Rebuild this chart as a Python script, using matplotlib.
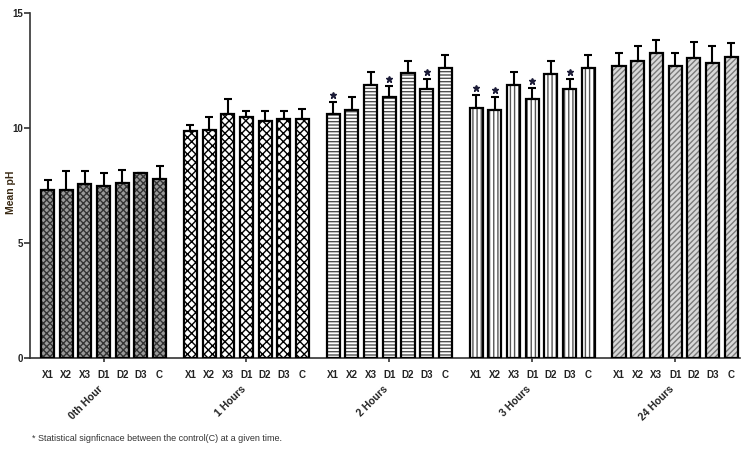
import numpy as np
import matplotlib
matplotlib.use('Agg')
import matplotlib.pyplot as plt
from matplotlib import transforms

plt.rcParams['font.family'] = ['Liberation Sans', 'DejaVu Sans']
plt.rcParams['hatch.linewidth'] = 1.0

# == data
groups = ['0th Hour', '1 Hours', '2 Hours', '3 Hours', '24 Hours']
samples = ['X1', 'X2', 'X3', 'D1', 'D2', 'D3', 'C']

mean_0h = [7.30, 7.30, 7.55, 7.48, 7.59, 8.03, 7.78]
mean_1h = [9.87, 9.90, 10.62, 10.48, 10.30, 10.39, 10.39]
mean_2h = [10.62, 10.79, 11.86, 11.33, 12.39, 11.71, 12.62]
mean_3h = [10.88, 10.78, 11.86, 11.28, 12.35, 11.71, 12.62]
mean_24h = [12.68, 12.93, 13.25, 12.68, 13.06, 12.83, 13.07]

sd_0h = [0.44, 0.83, 0.57, 0.56, 0.58, 0.02, 0.58]
sd_1h = [0.25, 0.58, 0.63, 0.27, 0.42, 0.36, 0.44]
sd_2h = [0.50, 0.55, 0.59, 0.50, 0.54, 0.43, 0.57]
sd_3h = [0.54, 0.55, 0.59, 0.46, 0.55, 0.43, 0.57]
sd_24h = [0.60, 0.62, 0.56, 0.60, 0.67, 0.75, 0.63]

# * = significant vs control
sig_0h = [0, 0, 0, 0, 0, 0, 0]
sig_1h = [0, 0, 0, 0, 0, 0, 0]
sig_2h = [1, 0, 0, 1, 0, 1, 0]
sig_3h = [1, 1, 0, 1, 0, 1, 0]
sig_24h = [0, 0, 0, 0, 0, 0, 0]

means = [mean_0h, mean_1h, mean_2h, mean_3h, mean_24h]
sds = [sd_0h, sd_1h, sd_2h, sd_3h, sd_24h]
sigs = [sig_0h, sig_1h, sig_2h, sig_3h, sig_24h]

# fill colour, hatch, hatch colour per group
styles = [('#9a9a9a', 'xxxxx', '#333333'),
          ('white', 'xxxx', 'black'),
          ('white', '-----', '#505050'),
          ('white', '||||', '#555555'),
          ('#d8d8d8', '//////', '#7a7a7a')]

stride = 7.65
width = 0.7

fig = plt.figure(figsize=(7.5, 4.54), dpi=100)
ax = fig.add_axes([0.04, 0.2115, 0.947, 0.76])

tick_pos, tick_lab, centers = [], [], []
for g, name in enumerate(groups):
    x = g * stride + np.arange(len(samples))
    face, hatch, hcol = styles[g]
    ax.bar(x, means[g], width, color=face, hatch=hatch, edgecolor=hcol, linewidth=0, zorder=2)
    ax.bar(x, means[g], width, fill=False, edgecolor='black', linewidth=1.6, zorder=3)
    ax.errorbar(x, means[g], yerr=[np.zeros(len(x)), sds[g]], fmt='none', ecolor='black',
                elinewidth=1.5, capsize=3, capthick=1.5, zorder=1)
    top = np.array(means[g]) + np.array(sds[g])
    for xi, ti, s in zip(x, top, sigs[g]):
        if s:
            ax.plot(xi, ti + 0.3, marker='*', ms=5, color='#1c1c38', zorder=4)
    tick_pos += list(x)
    tick_lab += samples
    centers.append(x[3])

ax.set_xlim(-0.937, 37.09)
ax.set_ylim(0, 15)
ax.set_yticks([0, 5, 10, 15])
ax.xaxis.remove_overlapping_locs = False
ax.set_xticks(centers, [''] * len(centers))
ax.set_xticks(tick_pos, tick_lab, minor=True)
ax.tick_params(axis='x', which='minor', length=0, pad=9, labelsize=7)
ax.tick_params(axis='x', which='major', length=3, width=1.2, color='#333333')
ax.tick_params(axis='y', length=4, width=1.2, color='#333333', labelsize=7, pad=1)
for lab in ax.get_xticklabels(minor=True) + ax.get_yticklabels():
    lab.set_fontweight('bold')
    lab.set_color('#222222')

for s in ['top', 'right']:
    ax.spines[s].set_visible(False)
for s in ['left', 'bottom']:
    ax.spines[s].set_linewidth(1.2)
    ax.spines[s].set_color('#333333')

ax.set_ylabel('Mean pH', fontsize=7.5, fontweight='bold', color='#3a2a14')
ax.yaxis.set_label_coords(-0.02, 0.48)

trans = transforms.blended_transform_factory(ax.transData, ax.transAxes)
for c, name in zip(centers, groups):
    ax.text(c + 0.05, -0.075, name, transform=trans, rotation=45, ha='right', va='top',
            fontsize=7.5, fontweight='bold', color='#222222')

fig.text(0.043, 0.035, '* Statistical signficnace between the control(C) at a given time.',
         fontsize=6.5, color='#333333', va='center')

fig.savefig('out.png', dpi=100)
